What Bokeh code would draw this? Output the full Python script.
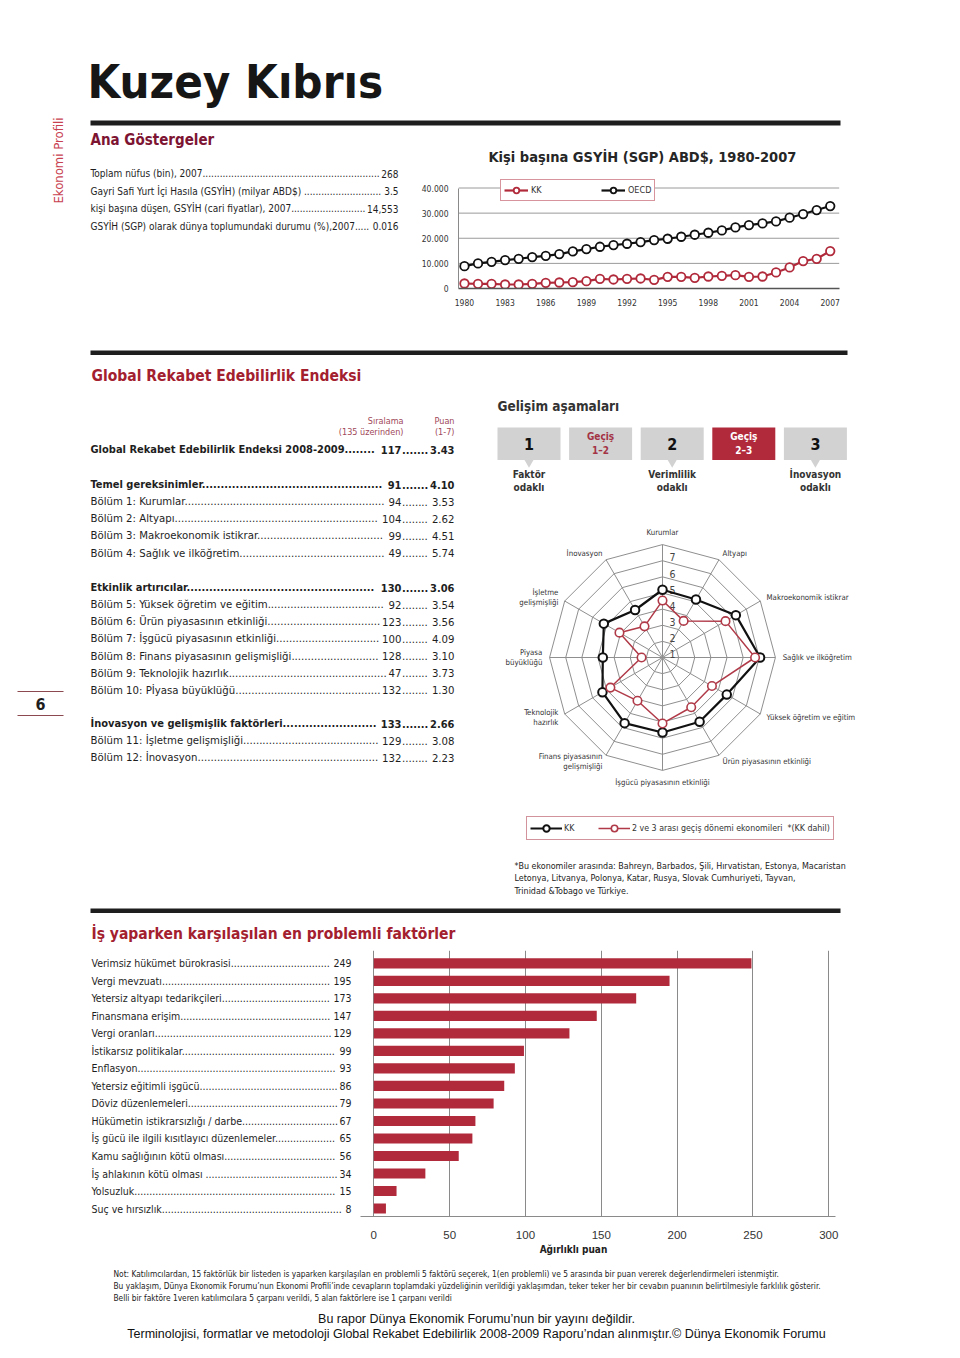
import math
import glob
import os
from bokeh.plotting import figure
from bokeh.layouts import row, column
from bokeh.models import Range1d, FixedTicker, Legend, LegendItem
from bokeh.core.properties import value
from bokeh.embed import file_html
from bokeh.resources import INLINE

# ---------------- data ----------------
country = "Kuzey Kıbrıs"

key_labels = ["Toplam nüfus (bin), 2007",
              "Gayri Safi Yurt İçi Hasıla (GSYİH) (milyar ABD$) ",
              "kişi başına düşen, GSYİH (cari fiyatlar), 2007",
              "GSYİH (SGP) olarak dünya toplumundaki durumu (%),2007"]
key_values = ["268", "3.5", "14,553", "0.016"]

gdp_years = list(range(1980, 2008))
gdp_kk = [1990, 1860, 1860, 1590, 1590, 1860, 2260, 2390, 2520, 2920, 3850, 3590, 3850, 3990,
          3460, 4650, 4650, 4250, 4780, 5050, 5320, 4650, 4780, 6380, 8370, 10900, 11830, 14900]
gdp_oecd = [8900, 9970, 10630, 11300, 11830, 12490, 13020, 13690, 14750, 15680, 16610, 17280,
            17810, 18470, 19270, 19800, 20600, 21400, 22190, 23120, 24320, 25250, 25910, 26710,
            28170, 29630, 31230, 32820]
gdp_xticks = [1980, 1983, 1986, 1989, 1992, 1995, 1998, 2001, 2004, 2007]
gdp_yticks = [0, 10000, 20000, 30000, 40000]
gdp_ytick_labels = ["0", "10.000", "20.000", "30.000", "40.000"]

gci_labels = ["Global Rekabet Edebilirlik Endeksi  2008-2009",
              "Temel gereksinimler",
              "Bölüm 1: Kurumlar", "Bölüm 2: Altyapı", "Bölüm 3: Makroekonomik istikrar",
              "Bölüm 4: Sağlık ve ilköğretim",
              "Etkinlik artırıcılar",
              "Bölüm 5: Yüksek öğretim ve eğitim", "Bölüm 6: Ürün piyasasının etkinliği",
              "Bölüm 7: İşgücü piyasasının etkinliği", "Bölüm 8: Finans piyasasının gelişmişliği",
              "Bölüm 9: Teknolojik hazırlık", "Bölüm 10: Pİyasa büyüklüğü",
              "İnovasyon ve gelişmişlik faktörleri",
              "Bölüm 11: İşletme gelişmişliği", "Bölüm 12: İnovasyon"]
gci_ranks = ["117", "91", "94", "104", "99", "49", "130", "92", "123", "100", "128", "47", "132",
             "133", "129", "132"]
gci_scores = ["3.43", "4.10", "3.53", "2.62", "4.51", "5.74", "3.06", "3.54", "3.56", "4.09",
              "3.10", "3.73", "1.30", "2.66", "3.08", "2.23"]
gci_bold = [True, True, False, False, False, False, True, False, False, False, False, False,
            False, True, False, False]

stage_labels = ["1", "Geçiş\n1–2", "2", "Geçiş\n2–3", "3"]
stage_focus = ["Faktör\nodaklı", "", "Verimlilik\nodaklı", "", "İnovasyon\nodaklı"]
stage_current = 3

radar_axes = ["Kurumlar", "Altyapı", "Makroekonomik istikrar", "Sağlık ve ilköğretim",
              "Yüksek öğretim ve eğitim", "Ürün piyasasının etkinliği",
              "İşgücü piyasasının etkinliği", "Finans piyasasının\ngelişmişliği",
              "Teknolojik\nhazırlık", "Piyasa\nbüyüklüğü", "İşletme\ngelişmişliği", "İnovasyon"]
radar_black = [4.20, 4.15, 5.25, 6.05, 4.60, 4.60, 4.65, 4.70, 4.30, 3.70, 4.20, 3.40]
radar_red = [3.53, 2.62, 4.51, 5.74, 3.54, 3.56, 4.09, 3.10, 3.73, 1.30, 3.08, 2.23]
radar_rings = [1, 2, 3, 4, 5, 6, 7]
radar_black_name = "KK"
radar_red_name = "2 ve 3 arası geçiş dönemi ekonomileri  *(KK dahil)"

prob_labels = ["Verimsiz hükümet bürokrasisi", "Vergi mevzuatı", "Yetersiz altyapı tedarikçileri",
               "Finansmana erişim", "Vergi oranları", "İstikarsız politikalar", "Enflasyon",
               "Yetersiz eğitimli işgücü", "Döviz düzenlemeleri",
               "Hükümetin istikrarsızlığı / darbe", "İş gücü ile ilgili kısıtlayıcı düzenlemeler",
               "Kamu sağlığının kötü olması", "İş ahlakının kötü olması ", "Yolsuzluk",
               "Suç ve hırsızlık"]
prob_scores = [249, 195, 173, 147, 129, 99, 93, 86, 79, 67, 65, 56, 34, 15, 8]
prob_xticks = [0, 50, 100, 150, 200, 250, 300]

footnote_lines = ["*Bu ekonomiler arasında: Bahreyn, Barbados, Şili, Hırvatistan, Estonya, Macaristan",
                  " Letonya, Litvanya, Polonya, Katar, Rusya, Slovak Cumhuriyeti, Tayvan,",
                  " Trinidad &Tobago ve Türkiye."]
note_lines = ["Not: Katılımcılardan, 15 faktörlük bir listeden is yaparken karşılaşılan en problemli 5 faktörü seçerek, 1(en problemli) ve 5 arasında bir puan vererek değerlendirmeleri istenmiştir.",
              "Bu yaklaşım, Dünya Ekonomik Forumu’nun Ekonomi Profili’inde cevapların toplamdaki yüzdeliğinin verildiği yaklaşımdan, teker teker her bir cevabın puanının belirtilmesiyle farklılık gösterir.",
              "Belli bir faktöre 1veren katılımcılara 5 çarpanı verildi, 5 alan faktörlere ise 1 çarpanı verildi"]
footer_lines = ["Bu rapor Dünya Ekonomik Forumu’nun bir yayını değildir.",
                "Terminolojisi, formatlar ve metodoloji Global Rekabet Edebilirlik 2008-2009 Raporu’ndan alınmıştır.© Dünya Ekonomik Forumu"]

# ---------------- styles ----------------
NARROW = "'DejaVu Sans Condensed', sans-serif"
REG = "'Liberation Sans', Arial, sans-serif"
INK = "#1e1e1e"
RED = "#b12a3b"
TITLE_RED = "#a3202f"
DARK_RED = "#7d1432"
GRID = "#8f8f8f"


# text measurement (for dot leaders) with the same font file the browser uses
def _find_font(name):
    roots = ["/usr/share/fonts", "/usr/local/share/fonts", os.path.expanduser("~/.fonts"),
             os.path.expanduser("~/.local/share/fonts")]
    for root in roots:
        hits = glob.glob(os.path.join(root, "**", name), recursive=True)
        if hits:
            return hits[0]
    return None


try:
    from PIL import ImageFont
    _r = _find_font("DejaVuSansCondensed.ttf")
    _b = _find_font("DejaVuSansCondensed-Bold.ttf")
    MEAS = {False: ImageFont.truetype(_r, 100), True: ImageFont.truetype(_b, 100)}
except Exception:
    MEAS = None


def text_w(s, size, bold):
    if MEAS is not None:
        return MEAS[bold].getlength(s) * size / 100.0
    return len(s) * size * (0.55 if bold else 0.5)


def panel(x0, x1, y0, y1, bottom=0):
    p = figure(width=x1 - x0, height=y1 - y0, x_range=Range1d(x0, x1),
               y_range=Range1d(y1 - bottom, y0),
               x_axis_type=None, y_axis_type=None, output_backend="svg", toolbar_location=None,
               min_border=0, min_border_left=0, min_border_right=0, min_border_top=0,
               min_border_bottom=bottom)
    p.outline_line_color = None
    return p


def T(p, x, y, s, size, color=INK, bold=False, align="left", baseline="middle", font=NARROW,
      angle=0.0, **kw):
    return p.text(x=[x], y=[y], text=[s], text_font=value(font), text_font_size=f"{size}px",
                  text_color=color, text_align=align, text_baseline=baseline,
                  text_font_style="bold" if bold else "normal", angle=angle, **kw)


def leader(p, y, label, cols, size, bold, x_label, **kw):
    """label ....... col1 ...... col2 ; cols = [(x_right, text), ...] left to right"""
    dot = text_w(".", size, bold)
    x = x_label + text_w(label, size, bold)
    first = True
    for xr, t in cols:
        start = xr - text_w(t, size, bold)
        nd = max(0, int((start - x - 1.5) / dot))
        if first:
            T(p, x_label, y, label + "." * nd, size, bold=bold, **kw)
            first = False
        elif nd:
            T(p, x + 0.5, y, "." * nd, size, bold=bold, **kw)
        T(p, xr, y, t, size, bold=bold, align="right", **kw)
        x = xr


def bar(p, x0, x1, y0, y1, color=INK, **kw):
    p.quad(left=[x0], right=[x1], top=[y0], bottom=[y1], fill_color=color, line_color=None, **kw)


# ---------------- left strip ----------------
strip = panel(0, 88, 0, 1352)
T(strip, 58, 160, "Ekonomi Profili", 13, color="#c8414f", align="center", angle=math.pi / 2)
strip.segment(x0=[17, 17], y0=[691, 715], x1=[63, 63], y1=[691, 715], line_color="#8c4a50",
              line_width=1.2)
T(strip, 40, 703, "6", 16, bold=True, align="center")

# ---------------- header ----------------
head = panel(88, 952, 0, 128)
T(head, 87, 81, country, 47, color="#161616", bold=True)
bar(head, 90, 840, 120, 125)

# ---------------- key indicators ----------------
tb = panel(88, 418, 128, 330, bottom=42)
T(tb, 90, 139, "Ana Göstergeler", 15, color=DARK_RED, bold=True)
for i, (lab, val) in enumerate(zip(key_labels, key_values)):
    leader(tb, 173 + 17.5 * i, lab, [(398, val)], 10, False, 90)

# ---------------- GDP line chart ----------------
cx0, cx1, cy0, cy1 = 418, 952, 128, 330
fl, fr, ft, fb = 455, 952, 128, 288
ppy = (829 - 461) / (gdp_years[-1] - gdp_years[0])
xs = gdp_years[0] - (461 - fl) / ppy
xe = gdp_years[-1] + (fr - 829) / ppy
x_grid_end = gdp_years[-1] + (838 - 829) / ppy
ppv = (fb - 187.5) / gdp_yticks[-1]
ye = (fb - ft) / ppv
c = figure(width=cx1 - cx0, height=cy1 - cy0, x_range=Range1d(xs, xe), y_range=Range1d(0, ye),
           output_backend="svg", toolbar_location=None, min_border_left=fl - cx0,
           min_border_right=cx1 - fr, min_border_top=ft - cy0, min_border_bottom=cy1 - fb)
c.outline_line_color = None
c.grid.visible = False
c.segment(x0=[xs] * 4, y0=gdp_yticks[1:], x1=[x_grid_end] * 4, y1=gdp_yticks[1:],
          line_color="#9a9a9a", line_width=1)
c.yaxis.ticker = FixedTicker(ticks=gdp_yticks)
c.yaxis.major_label_overrides = dict(zip(gdp_yticks, gdp_ytick_labels))
c.yaxis.bounds = (0, gdp_yticks[-1])
c.yaxis.axis_line_color = "#8a8a8a"
c.xaxis.ticker = FixedTicker(ticks=gdp_xticks)
c.xaxis.bounds = (xs, x_grid_end)
c.xaxis.axis_line_color = "#555555"
c.xaxis.axis_line_width = 1.3
c.axis.major_tick_line_color = None
c.axis.minor_tick_line_color = None
c.axis.major_label_text_font = NARROW
c.axis.major_label_text_font_size = "8.5px"
c.axis.major_label_text_color = "#333333"
c.yaxis.major_label_standoff = 4
c.xaxis.major_label_standoff = 4
c.extra_x_ranges = {"px": Range1d(fl, fr)}
c.extra_y_ranges = {"px": Range1d(fb, ft)}
T(c, 640, 156, "Kişi başına GSYİH (SGP) ABD$, 1980-2007", 14.5, color="#262626", bold=True,
  align="center", x_range_name="px", y_range_name="px")
l1 = c.line(gdp_years, gdp_oecd, line_color="#111111", line_width=2.2)
s1 = c.scatter(gdp_years, gdp_oecd, size=8.5, marker="circle", fill_color="white",
               line_color="#111111", line_width=1.8)
l2 = c.line(gdp_years, gdp_kk, line_color=RED, line_width=2.2)
s2 = c.scatter(gdp_years, gdp_kk, size=8.5, marker="circle", fill_color="white",
               line_color=RED, line_width=1.8)
leg = Legend(items=[LegendItem(label="KK", renderers=[l2, s2]),
                    LegendItem(label="OECD", renderers=[l1, s1])],
             location=(42, 87), orientation="horizontal", border_line_color=RED,
             border_line_width=1.5, padding=3, spacing=50, glyph_width=24, glyph_height=14,
             label_height=14, label_standoff=3, label_text_font=NARROW,
             label_text_font_size="9px", label_text_color="#333333", margin=0,
             background_fill_alpha=1.0)
c.add_layout(leg)

# ---------------- GCI heading ----------------
c0 = panel(88, 952, 330, 390)
bar(c0, 90, 847, 350, 354.5)
T(c0, 91, 375, "Global Rekabet Edebilirlik Endeksi", 15.5, color=TITLE_RED, bold=True)

# ---------------- GCI table ----------------
tc = panel(88, 470, 390, 905)
hdr = "#a0485a"
T(tc, 403, 420, "Sıralama", 9, color=hdr, align="right")
T(tc, 403, 431.5, "(135 üzerinden)", 9, color=hdr, align="right")
T(tc, 454, 420, "Puan", 9, color=hdr, align="right")
T(tc, 454, 431.5, "(1-7)", 9, color=hdr, align="right")
group_start = {0: 449, 1: 484, 6: 587, 13: 723}
y = 0
for i, lab in enumerate(gci_labels):
    y = group_start.get(i, y + 17.15)
    size = 11 if gci_bold[i] else 11.3
    leader(tc, y, lab, [(401, gci_ranks[i]), (454, gci_scores[i])], size, gci_bold[i], 90)

# ---------------- stages ----------------
st = panel(470, 952, 390, 500)
T(st, 497, 405, "Gelişim aşamaları", 13.5, color="#333333", bold=True)
for i, lab in enumerate(stage_labels):
    left = 497 + 71.6 * i
    cur = (i == stage_current)
    bar(st, left, left + 63, 427, 459.5, color=RED if cur else "#d2d2d2")
    cxm = left + 31.5
    if "\n" in lab:
        T(st, cxm, 443, lab, 10, color="white" if cur else "#a33345", bold=True, align="center")
    else:
        T(st, cxm, 443.5, lab, 16, color="#111111", bold=True, align="center")
    if stage_focus[i]:
        st.scatter(x=[cxm], y=[462], marker="inverted_triangle", size=9, fill_color="#d2d2d2",
                   line_color=None)
        T(st, cxm, 468, stage_focus[i], 10, color="#333333", bold=True, align="center",
          baseline="top")

# ---------------- radar ----------------
rx0, rx1, ry0, ry1 = 470, 952, 500, 845
rcx, rcy, pxu = 662, 657, 16.13
rd = figure(width=rx1 - rx0, height=ry1 - ry0,
            x_range=Range1d((rx0 - rcx) / pxu, (rx1 - rcx) / pxu),
            y_range=Range1d((rcy - ry1) / pxu, (rcy - ry0) / pxu),
            x_axis_type=None, y_axis_type=None, output_backend="svg", toolbar_location=None,
            min_border=0, min_border_left=0, min_border_right=0, min_border_top=0,
            min_border_bottom=0)
rd.outline_line_color = None
n = len(radar_axes)
ang = [math.pi / 2 - 2 * math.pi * k / n for k in range(n)]


def ring(vals):
    xs_ = [v * math.cos(a) for v, a in zip(vals, ang)]
    ys_ = [v * math.sin(a) for v, a in zip(vals, ang)]
    return xs_ + xs_[:1], ys_ + ys_[:1]


rmax = radar_rings[-1]
rings = [ring([r] * n) for r in radar_rings]
rd.multi_line(xs=[r[0] for r in rings], ys=[r[1] for r in rings], line_color=GRID, line_width=1)
rd.segment(x0=[0] * n, y0=[0] * n, x1=[rmax * math.cos(a) for a in ang],
           y1=[rmax * math.sin(a) for a in ang], line_color=GRID, line_width=1)
rd.text(x=[0.62] * len(radar_rings), y=[r - 0.8 for r in radar_rings],
        text=[str(r) for r in radar_rings], text_font=value(NARROW), text_font_size="10.5px",
        text_color="#444444", text_align="center", text_baseline="middle")
for k, lab in enumerate(radar_axes):
    ca, sa = math.cos(ang[k]), math.sin(ang[k])
    R = 7.45
    align = "left" if ca > 0.1 else ("right" if ca < -0.1 else "center")
    base = "bottom" if sa > 0.9 else ("top" if sa < -0.9 else "middle")
    T(rd, R * ca, R * sa, lab, 7.8, color="#333333", align=align, baseline=base)
bx, by = ring(radar_black)
kx, ky = ring(radar_red)
bl = rd.line(bx, by, line_color="#111111", line_width=2.2)
bs = rd.scatter(bx[:-1], by[:-1], size=8.5, marker="circle", fill_color="white",
                line_color="#111111", line_width=2)
kl = rd.line(kx, ky, line_color="#b03a48", line_width=1.5)
ks = rd.scatter(kx[:-1], ky[:-1], size=8.5, marker="circle", fill_color="white",
                line_color="#b03a48", line_width=1.6)
rleg = Legend(items=[LegendItem(label=radar_black_name, renderers=[bl, bs]),
                     LegendItem(label=radar_red_name, renderers=[kl, ks])],
              location=(56, 5), orientation="horizontal", border_line_color="#a8283a",
              border_line_width=1.5, padding=3, spacing=14, glyph_width=32, glyph_height=16,
              label_height=16, label_standoff=2, label_text_font=NARROW,
              label_text_font_size="8.8px", label_text_color="#333333", margin=0,
              background_fill_alpha=1.0)
rd.add_layout(rleg)

# ---------------- footnote ----------------
fn = panel(470, 952, 845, 905)
for i, line in enumerate(footnote_lines):
    T(fn, 514, 865 + 12.5 * i, line, 8.9, color="#222222")

# ---------------- problem factors heading ----------------
d0 = panel(88, 952, 905, 950)
bar(d0, 90, 840, 908, 912.5)
T(d0, 91, 933, "İş yaparken karşılaşılan en problemli faktörler", 15.5, color=TITLE_RED,
  bold=True)

# ---------------- problem factors bars ----------------
bx0, bx1, by0, by1 = 88, 952, 950, 1241
bfl, bfr, bft, bfb = 88, 952, 950, 1219
zero_px, ppu = 373.3, (828.3 - 373.3) / prob_xticks[-1]
row_top, row_step = 963, 17.71
nb = len(prob_scores)
b = figure(width=bx1 - bx0, height=by1 - by0,
           x_range=Range1d((bfl - zero_px) / ppu, (bfr - zero_px) / ppu),
           y_range=Range1d((bfb - row_top) / row_step, (bft - row_top) / row_step),
           y_axis_type=None, output_backend="svg", toolbar_location=None,
           min_border_left=bfl - bx0, min_border_right=bx1 - bfr, min_border_top=bft - by0,
           min_border_bottom=by1 - bfb)
b.outline_line_color = None
b.xgrid.ticker = FixedTicker(ticks=prob_xticks)
b.xgrid.grid_line_color = "#8a8a8a"
b.xaxis.ticker = FixedTicker(ticks=prob_xticks)
b.xaxis.bounds = ((360 - zero_px) / ppu, (835 - zero_px) / ppu)
b.xaxis.axis_line_color = "#8a8a8a"
b.xaxis.major_tick_line_color = None
b.xaxis.minor_tick_line_color = None
b.xaxis.major_label_text_font = REG
b.xaxis.major_label_text_font_size = "11.5px"
b.xaxis.major_label_text_color = "#333333"
b.xaxis.major_label_standoff = 8
idx = list(range(nb))
b.hbar(y=idx, left=0, right=prob_scores, height=0.58, fill_color=RED, line_color=None)
b.extra_x_ranges = {"px": Range1d(bfl, bfr)}
for i, (lab, v) in enumerate(zip(prob_labels, prob_scores)):
    leader(b, i, lab, [(351, str(v))], 10.5, False, 91, x_range_name="px")

# ---------------- footer ----------------
e = panel(88, 952, 1241, 1352)
T(e, 573, 1248.5, "Ağırlıklı puan", 10, color="#222222", bold=True, align="center")
for i, line in enumerate(note_lines):
    T(e, 113, 1273 + 12 * i, line, 8.3, color="#222222")
for i, line in enumerate(footer_lines):
    T(e, 476, 1318 + 15.5 * i, line, 12.5, color="#111111", align="center", font=REG)

main = column(head, row(tb, c), c0, row(tc, column(st, rd, fn)), d0, b, e)
page = row(strip, main)

open("out.html", "w").write(file_html(page, INLINE, title="Kuzey Kıbrıs"))
